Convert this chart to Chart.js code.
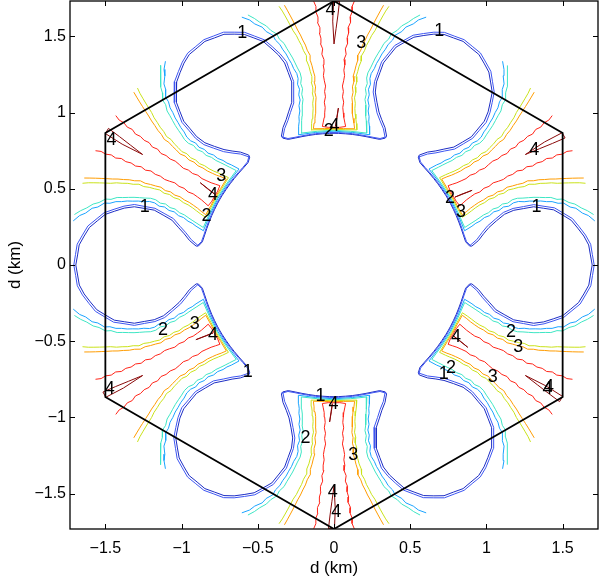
<!DOCTYPE html>
<html lang="en">
<head>
<meta charset="UTF-8">
<title>Contornos</title>
<script src="https://cdn.jsdelivr.net/npm/chart.js@4"></script>
<style>
    body { margin: 0; background: #fff; }
</style>
</head>
<body>
<canvas id="grafico" width="609" height="585"></canvas>
<script>
    // tick positions (km)
    var tickVals = [-1.5, -1, -0.5, 0, 0.5, 1, 1.5];

    // hexagon (km)
    var hexX = [0, 1.5, 1.5, 0, -1.5, -1.5, 0];
    var hexY = [1.732, 0.866, -0.866, -1.732, -0.866, 0.866, 1.732];

    // directions (deg) of the six blue lobes and of the six fans between them
    var lobeAngles = [0, 60, 120, 180, 240, 300];
    var fanAngles = [30, 90, 150, 210, 270, 330];
    var lobeDist = 1.31;

    // blue level-1 rings, polar round the lobe centre (deg from outward dir, km)
    var ringBeta = [-163, -156, -148, -140, -130, -120, -110, -100, -90, -80, -70, -60, -50, -40, -30, -20, -10, 0,
        10, 20, 30, 40, 50, 60, 70, 80, 90, 100, 110, 120, 130, 140, 148, 156, 163];
    var ringOuter = [0.437, 0.409, 0.399, 0.393, 0.398, 0.391, 0.396, 0.390, 0.397, 0.392, 0.389, 0.396, 0.391, 0.398, 0.393, 0.399, 0.392, 0.397,
        0.391, 0.398, 0.393, 0.390, 0.397, 0.392, 0.399, 0.391, 0.396, 0.389, 0.395, 0.398, 0.392, 0.397, 0.400, 0.409, 0.437];
    var ringInner = [0.424, 0.396, 0.386, 0.380, 0.384, 0.378, 0.383, 0.377, 0.382, 0.379, 0.376, 0.383, 0.378, 0.384, 0.380, 0.385, 0.378, 0.384,
        0.378, 0.384, 0.380, 0.377, 0.383, 0.379, 0.385, 0.378, 0.382, 0.376, 0.382, 0.384, 0.379, 0.383, 0.387, 0.396, 0.424];

    // blue along the central hole, polar from the fan axis (deg, km)
    var holePhi = [-22, -20, -17, -14, -11, -8, -5, -2, 0, 2, 5, 8, 11, 14, 17, 20, 22];
    var holeOuter = [0.906, 0.883, 0.876, 0.873, 0.871, 0.870, 0.869, 0.869, 0.869, 0.869, 0.869, 0.870, 0.871, 0.873, 0.876, 0.883, 0.906];
    var holeInner = [0.898, 0.877, 0.871, 0.868, 0.866, 0.865, 0.864, 0.864, 0.864, 0.864, 0.864, 0.865, 0.866, 0.868, 0.871, 0.877, 0.898];

    // fan contours, one half: bottom along the hole, then the branch out to the data edge
    var fanR = [0.94, 0.97, 1.0, 1.035, 1.07, 1.105, 1.14, 1.175, 1.21, 1.245, 1.28, 1.315, 1.35, 1.385, 1.42, 1.455,
        1.49, 1.525, 1.56, 1.595, 1.63, 1.665, 1.70, 1.735];
    var lightPhi = [0, 8, 15.3, 14.3, 13.6, 13.3, 12.5, 12.4, 11.6, 11.7, 11.1, 11.4, 10.9, 11.0, 11.6, 11.9, 12.4, 12.8, 13.4,
        13.8, 14.6, 14.9, 16.2, 16.8, 18.2, 19.0, 20.4];
    var lightBottom = [0.878, 0.878, 0.886];
    var aquaPhi = [0, 7, 14.0, 13.1, 12.6, 12.1, 11.5, 11.3, 10.6, 10.7, 10.1, 10.4, 9.9, 10.0, 10.5, 10.9, 11.3, 11.8, 12.3,
        12.7, 13.6, 13.9, 15.1, 15.8, 17.0, 17.9, 19.0];
    var aquaBottom = [0.884, 0.884, 0.892];
    var yellowPhi = [0, 5, 9.6, 9.0, 8.5, 8.0, 7.6, 7.5, 7.0, 7.2, 6.8, 7.1, 6.7, 7.0, 7.2, 7.6, 7.5, 8.1, 8.4,
        8.9, 9.3, 9.9, 10.3, 10.7, 11.1, 11.5, 12.0];
    var yellowBottom = [0.891, 0.891, 0.899];
    var orangePhi = [0, 4, 8.6, 8.0, 7.4, 7.0, 6.6, 6.5, 6.1, 6.3, 5.9, 6.2, 5.8, 6.1, 6.3, 6.6, 6.5, 7.1, 7.4,
        7.9, 8.3, 8.8, 9.2, 9.6, 10.0, 10.4, 10.8];
    var orangeBottom = [0.897, 0.897, 0.904];
    var redPhi = [0, 2.4, 4.8, 4.3, 3.8, 3.5, 3.2, 3.4, 2.9, 3.1, 2.7, 3.0, 3.2, 2.9, 3.1, 2.8, 3.3, 3.0, 3.5,
        3.3, 3.6, 3.4, 3.9, 3.7, 4.1, 4.0, 4.4];
    var redBottom = [0.904, 0.904, 0.912];

    // level-4 slivers on the fan axis
    var darkPhi = [0, -0.5, -0.9, -1.2, 0.1, 0.3, 0];
    var darkR = [1.45, 1.55, 1.64, 1.73, 1.73, 1.6, 1.45];
    var dark2Phi = [-0.7, -1.2, -1.6, -1.0, -0.7];
    var dark2R = [0.91, 0.97, 1.03, 0.96, 0.91];

    // contour labels (km)
    var labelText = ['1', '1', '4', '3', '2', '4', '4', '3', '4', '2', '1', '4', '2', '3', '1', '2', '3',
        '4', '1', '4', '2', '3', '4', '1', '2', '3', '4', '4', '1', '4', '2', '3', '4', '4'];
    var labelX = [-0.602, 0.691, -0.023, 0.178, -0.034, 0.003, -1.46, -0.739, -0.794, -0.837, -1.242, 1.314, 0.761, 0.834, 1.329, -1.122, -0.914,
        -0.794, -0.565, -1.471, 1.161, 1.209, 0.801, 0.72, 0.768, 1.041, 1.401, 1.41, -0.088, -0.003, -0.187, 0.126, -0.008, 0.014];
    var labelY = [1.524, 1.534, 1.676, 1.458, 0.879, 0.912, 0.819, 0.581, 0.458, 0.319, 0.378, 0.755, 0.437, 0.345, 0.378, -0.424, -0.386,
        -0.458, -0.699, -0.812, -0.441, -0.539, -0.473, -0.714, -0.676, -0.735, -0.812, -0.80, -0.86, -0.91, -1.133, -1.249, -1.491, -1.622];

    var fonte = '"Liberation Sans", Arial, Helvetica, sans-serif';

    function rad(d) { return d * Math.PI / 180; }
    function polar(ang, r) { return { x: r * Math.cos(rad(ang)), y: r * Math.sin(rad(ang)) }; }

    function blueLoop(ring, hole) {
        var pts = [];
        lobeAngles.forEach(function (a, k) {
            var c = polar(a, lobeDist);
            for (var i = 0; i < ringBeta.length; i++) {
                var p = polar(a + ringBeta[i], ring[i]);
                pts.push({ x: c.x + p.x, y: c.y + p.y });
            }
            for (var j = 0; j < holePhi.length; j++) pts.push(polar(fanAngles[k] + holePhi[j], hole[j]));
        });
        pts.push(pts[0]);
        return pts;
    }

    function fanLine(fan, phi, bottom) {
        var r = bottom.concat(fanR);
        var pts = [];
        for (var i = phi.length - 1; i > 0; i--) pts.push(polar(fan - phi[i], r[i]));
        for (var i = 0; i < phi.length; i++) pts.push(polar(fan + phi[i], r[i]));
        return pts;
    }

    function sliver(fan, phi, r) {
        var pts = [];
        for (var i = 0; i < phi.length; i++) pts.push(polar(fan + phi[i], r[i]));
        return pts;
    }

    function linha(data, cor, w) {
        return { data: data, borderColor: cor, borderWidth: w, showLine: true, pointRadius: 0, tension: 0, fill: false };
    }

    var datasets = [];
    var hex = [];
    for (var i = 0; i < hexX.length; i++) hex.push({ x: hexX[i], y: hexY[i] });
    datasets.push(linha(hex, '#000000', 1.8));

    fanAngles.forEach(function (f) {
        datasets.push(linha(sliver(f, darkPhi, darkR), '#8a0a0a', 1));
        datasets.push(linha(sliver(f, dark2Phi, dark2R), '#8a0a0a', 1));
        datasets.push(linha(fanLine(f, redPhi, redBottom), '#ff2418', 1));
        datasets.push(linha(fanLine(f, orangePhi, orangeBottom), '#ff9c00', 1));
        datasets.push(linha(fanLine(f, yellowPhi, yellowBottom), '#c9e21a', 1));
        datasets.push(linha(fanLine(f, aquaPhi, aquaBottom), '#3ee6c4', 1));
        datasets.push(linha(fanLine(f, lightPhi, lightBottom), '#1aa3ff', 1));
    });
    datasets.push(linha(blueLoop(ringOuter, holeOuter), '#3d55f2', 1));
    datasets.push(linha(blueLoop(ringInner, holeInner), '#1c2cc4', 1));

    function formata(v) {
        if (v < 0) return '\u2212' + Math.abs(v);
        return String(v);
    }

    // box round the axes, with inward ticks on all four sides
    var moldura = {
        id: 'moldura',
        afterDatasetsDraw: function (chart) {
            var ctx = chart.ctx, a = chart.chartArea, sx = chart.scales.x, sy = chart.scales.y;
            ctx.save();
            ctx.strokeStyle = '#000';
            ctx.lineWidth = 1.3;
            ctx.strokeRect(a.left, a.top, a.right - a.left, a.bottom - a.top);
            ctx.lineWidth = 1;
            ctx.beginPath();
            tickVals.forEach(function (v) {
                var px = Math.round(sx.getPixelForValue(v)) + 0.5;
                var py = Math.round(sy.getPixelForValue(v)) + 0.5;
                ctx.moveTo(px, a.bottom); ctx.lineTo(px, a.bottom - 5);
                ctx.moveTo(px, a.top); ctx.lineTo(px, a.top + 5);
                ctx.moveTo(a.left, py); ctx.lineTo(a.left + 5, py);
                ctx.moveTo(a.right, py); ctx.lineTo(a.right - 5, py);
            });
            ctx.stroke();
            ctx.restore();
        }
    };

    // contour labels
    var rotulos = {
        id: 'rotulos',
        afterDatasetsDraw: function (chart) {
            var ctx = chart.ctx, sx = chart.scales.x, sy = chart.scales.y;
            ctx.save();
            ctx.fillStyle = '#000';
            ctx.font = '18px ' + fonte;
            ctx.textAlign = 'center';
            ctx.textBaseline = 'middle';
            for (var i = 0; i < labelText.length; i++) {
                ctx.fillText(labelText[i], sx.getPixelForValue(labelX[i]), sy.getPixelForValue(labelY[i]));
            }
            ctx.restore();
        }
    };

    var chart = new Chart('grafico', {
        type: 'scatter',
        data: { datasets: datasets },
        options: {
            responsive: false,
            animation: false,
            layout: { padding: { top: 1, right: 11, left: 0, bottom: 0 } },
            plugins: { legend: { display: false }, tooltip: { enabled: false } },
            scales: {
                x: {
                    type: 'linear', min: -1.732, max: 1.732,
                    afterBuildTicks: function (s) { s.ticks = tickVals.map(function (v) { return { value: v }; }); },
                    afterFit: function (s) { s.height = 56; s.paddingLeft = 0; s.paddingRight = 0; },
                    grid: { display: false, drawTicks: false },
                    border: { display: false },
                    ticks: { callback: formata, color: '#000', font: { family: fonte, size: 16 }, padding: 10, maxRotation: 0, autoSkip: false },
                    title: { display: true, text: 'd (km)', color: '#000', font: { family: fonte, size: 17 }, padding: { top: 0, bottom: 6 } }
                },
                y: {
                    type: 'linear', min: -1.732, max: 1.732,
                    afterBuildTicks: function (s) { s.ticks = tickVals.map(function (v) { return { value: v }; }); },
                    afterFit: function (s) { s.width = 70; s.paddingTop = 0; s.paddingBottom = 0; },
                    grid: { display: false, drawTicks: false },
                    border: { display: false },
                    ticks: { callback: formata, color: '#000', font: { family: fonte, size: 16 }, padding: 4, autoSkip: false },
                    title: { display: true, text: 'd (km)', color: '#000', font: { family: fonte, size: 17 }, padding: { top: 5, bottom: 0 } }
                }
            }
        },
        plugins: [moldura, rotulos]
    });
</script>
</body>
</html>
